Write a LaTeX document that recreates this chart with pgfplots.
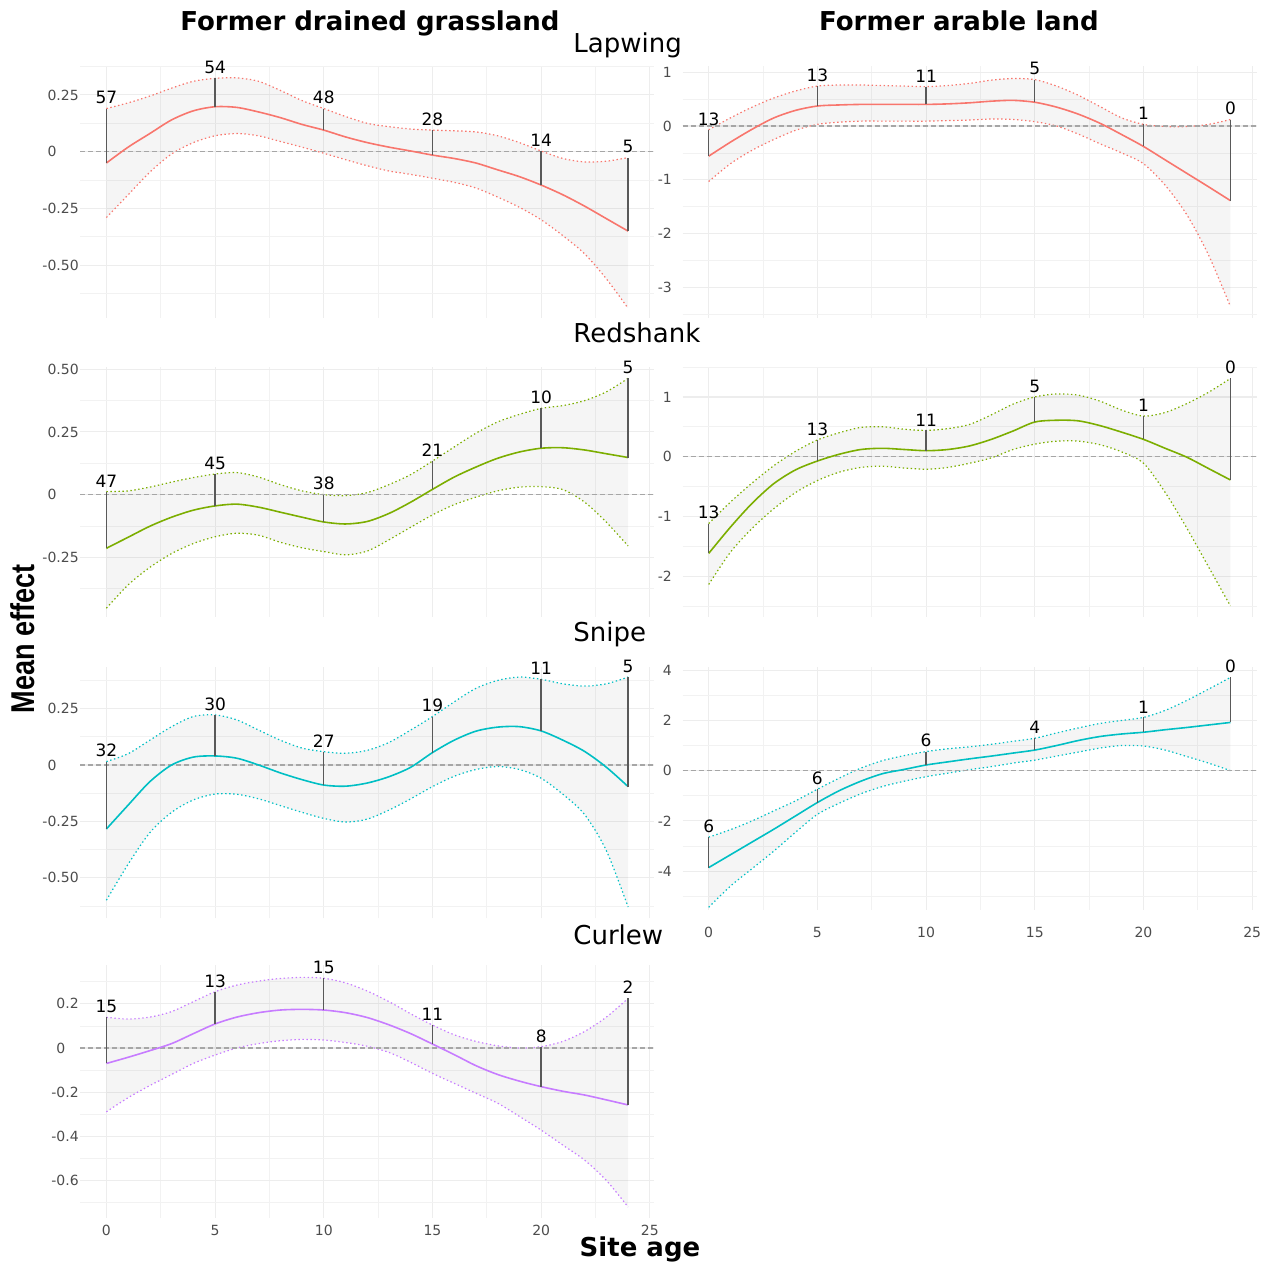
\documentclass[border=0pt]{standalone}
\usepackage{fontspec}
\setmainfont{DejaVu Sans}
\newfontfamily\libsans{Liberation Sans}
\usepackage{pgfplots}
\pgfplotsset{compat=1.18}
\usepgfplotslibrary{fillbetween}
\usepackage{pgfplotstable}

\definecolor{lapw}{HTML}{F8766D}
\definecolor{reds}{HTML}{7CAE00}
\definecolor{snip}{HTML}{00BFC4}
\definecolor{curl}{HTML}{C77CFF}

% ---------- Lapwing, former drained grassland
\pgfplotstableread{
x m lo hi
0 -0.05 -0.29 0.19
1 0.02 -0.19 0.215
2 0.08 -0.09 0.245
3 0.14 -0.01 0.28
4 0.18 0.04 0.31
5 0.198 0.07 0.323
6 0.195 0.08 0.325
7 0.175 0.07 0.31
8 0.15 0.045 0.27
9 0.12 0.02 0.225
10 0.095 -0.007 0.19
11 0.065 -0.035 0.155
12 0.04 -0.062 0.125
13 0.02 -0.085 0.11
14 0.003 -0.1 0.1
15 -0.015 -0.117 0.095
16 -0.03 -0.135 0.092
17 -0.05 -0.16 0.087
18 -0.08 -0.2 0.07
19 -0.11 -0.245 0.04
20 -0.147 -0.30 0.003
21 -0.19 -0.37 -0.03
22 -0.24 -0.45 -0.045
23 -0.295 -0.56 -0.042
24 -0.35 -0.69 -0.026
}\LapG
\pgfplotstableread{
x m hi n
0 -0.05 0.19 57
5 0.198 0.323 54
10 0.095 0.19 48
15 -0.015 0.095 28
20 -0.147 0.003 14
24 -0.35 -0.026 5
}\LapGn

% ---------- Lapwing, former arable land
\pgfplotstableread{
x m lo hi
0 -0.56 -1.03 -0.07
1 -0.30 -0.7 0.15
2 -0.06 -0.45 0.35
3 0.15 -0.25 0.52
4 0.29 -0.08 0.65
5 0.37 0.03 0.74
6 0.39 0.07 0.76
7 0.40 0.09 0.76
8 0.40 0.09 0.75
9 0.40 0.09 0.74
10 0.40 0.09 0.73
11 0.41 0.10 0.75
12 0.43 0.11 0.79
13 0.46 0.13 0.85
14 0.475 0.12 0.88
15 0.44 0.08 0.86
16 0.35 0.0 0.74
17 0.22 -0.15 0.57
18 0.05 -0.33 0.36
19 -0.16 -0.5 0.15
20 -0.38 -0.7 0.03
21 -0.63 -1.1 -0.01
22 -0.88 -1.65 -0.01
23 -1.13 -2.4 0.03
24 -1.385 -3.35 0.12
}\LapA
\pgfplotstableread{
x m hi n
0 -0.56 -0.07 13
5 0.37 0.74 13
10 0.40 0.73 11
15 0.44 0.86 5
20 -0.38 0.03 1
24 -1.385 0.12 0
}\LapAn

% ---------- Redshank, former drained grassland
\pgfplotstableread{
x m lo hi
0 -0.214 -0.453 0.012
1 -0.17 -0.36 0.015
2 -0.126 -0.29 0.03
3 -0.09 -0.235 0.05
4 -0.062 -0.195 0.068
5 -0.045 -0.168 0.082
6 -0.038 -0.154 0.088
7 -0.05 -0.162 0.07
8 -0.07 -0.19 0.04
9 -0.09 -0.212 0.015
10 -0.109 -0.227 0.0
11 -0.117 -0.24 -0.004
12 -0.107 -0.225 0.008
13 -0.075 -0.18 0.04
14 -0.03 -0.13 0.08
15 0.021 -0.081 0.134
16 0.07 -0.04 0.19
17 0.11 -0.01 0.245
18 0.145 0.015 0.29
19 0.17 0.03 0.32
20 0.185 0.032 0.344
21 0.187 0.02 0.355
22 0.178 -0.03 0.375
23 0.163 -0.11 0.41
24 0.148 -0.205 0.464
}\RedG
\pgfplotstableread{
x m hi n
0 -0.214 0.012 47
5 -0.045 0.082 45
10 -0.109 0.0 38
15 0.021 0.134 21
20 0.185 0.344 10
24 0.148 0.464 5
}\RedGn

% ---------- Redshank, former arable land
\pgfplotstableread{
x m lo hi
0 -1.62 -2.14 -1.12
1 -1.18 -1.6 -0.76
2 -0.78 -1.2 -0.44
3 -0.45 -0.87 -0.15
4 -0.22 -0.6 0.09
5 -0.073 -0.40 0.28
6 0.04 -0.26 0.4
7 0.12 -0.18 0.49
8 0.14 -0.16 0.5
9 0.12 -0.19 0.46
10 0.10 -0.21 0.44
11 0.12 -0.18 0.47
12 0.18 -0.11 0.54
13 0.29 -0.02 0.7
14 0.43 0.12 0.88
15 0.58 0.21 1.0
16 0.61 0.26 1.05
17 0.6 0.26 1.03
18 0.52 0.2 0.93
19 0.41 0.08 0.78
20 0.29 -0.11 0.68
21 0.14 -0.6 0.74
22 -0.01 -1.2 0.89
23 -0.2 -1.85 1.08
24 -0.39 -2.5 1.31
}\RedA
\pgfplotstableread{
x m hi n
0 -1.62 -1.12 13
5 -0.073 0.28 13
10 0.10 0.44 11
15 0.58 1.0 5
20 0.29 0.68 1
24 -0.39 1.31 0
}\RedAn

% ---------- Snipe, former drained grassland
\pgfplotstableread{
x m lo hi
0 -0.284 -0.6 0.015
1 -0.178 -0.44 0.05
2 -0.074 -0.3 0.11
3 0.0 -0.21 0.17
4 0.035 -0.155 0.215
5 0.04 -0.129 0.222
6 0.03 -0.13 0.2
7 0.0 -0.15 0.155
8 -0.035 -0.18 0.11
9 -0.065 -0.21 0.075
10 -0.089 -0.237 0.059
11 -0.094 -0.253 0.052
12 -0.08 -0.24 0.065
13 -0.052 -0.2 0.1
14 -0.01 -0.15 0.155
15 0.055 -0.096 0.215
16 0.11 -0.05 0.28
17 0.15 -0.02 0.34
18 0.168 -0.007 0.375
19 0.17 -0.02 0.39
20 0.151 -0.059 0.38
21 0.11 -0.13 0.36
22 0.06 -0.22 0.35
23 -0.01 -0.38 0.36
24 -0.096 -0.63 0.39
}\SniG
\pgfplotstableread{
x m hi n
0 -0.284 0.015 32
5 0.04 0.222 30
10 -0.089 0.059 27
15 0.055 0.215 19
20 0.151 0.38 11
24 -0.096 0.39 5
}\SniGn

% ---------- Snipe, former arable land
\pgfplotstableread{
x m lo hi
0 -3.86 -5.44 -2.65
1 -3.35 -4.6 -2.35
2 -2.84 -3.9 -2.0
3 -2.33 -3.2 -1.6
4 -1.8 -2.45 -1.2
5 -1.27 -1.74 -0.74
6 -0.8 -1.3 -0.3
7 -0.42 -0.92 0.1
8 -0.12 -0.63 0.4
9 0.05 -0.42 0.6
10 0.225 -0.24 0.76
11 0.35 -0.1 0.87
12 0.47 0.04 0.95
13 0.58 0.16 1.05
14 0.7 0.3 1.17
15 0.82 0.42 1.29
16 1.0 0.58 1.5
17 1.2 0.74 1.7
18 1.36 0.9 1.88
19 1.46 1.0 2.0
20 1.53 0.98 2.12
21 1.63 0.82 2.4
22 1.72 0.56 2.8
23 1.82 0.3 3.25
24 1.92 0.0 3.71
}\SniA
\pgfplotstableread{
x m hi n
0 -3.86 -2.65 6
5 -1.27 -0.74 6
10 0.225 0.76 6
15 0.82 1.29 4
20 1.53 2.12 1
24 1.92 3.71 0
}\SniAn

% ---------- Curlew, former drained grassland
\pgfplotstableread{
x m lo hi
0 -0.07 -0.289 0.139
1 -0.042 -0.225 0.131
2 -0.012 -0.17 0.14
3 0.02 -0.12 0.165
4 0.065 -0.07 0.21
5 0.109 -0.032 0.255
6 0.14 0.0 0.285
7 0.16 0.02 0.303
8 0.172 0.033 0.315
9 0.175 0.039 0.32
10 0.172 0.036 0.316
11 0.16 0.025 0.295
12 0.138 0.008 0.258
13 0.105 -0.02 0.21
14 0.065 -0.065 0.155
15 0.018 -0.115 0.104
16 -0.03 -0.16 0.06
17 -0.08 -0.205 0.03
18 -0.12 -0.25 0.01
19 -0.15 -0.31 0.0
20 -0.175 -0.372 0.006
21 -0.196 -0.44 0.03
22 -0.213 -0.508 0.075
23 -0.235 -0.6 0.14
24 -0.258 -0.72 0.225
}\CurG
\pgfplotstableread{
x m hi n
0 -0.07 0.139 15
5 0.109 0.255 13
10 0.172 0.316 15
15 0.018 0.104 11
20 -0.175 0.006 8
24 -0.258 0.225 2
}\CurGn

\pgfplotsset{
  panel/.style={
    scale only axis, width=286.95pt, xmin=-1.2, xmax=25.2,
    clip=false, anchor=north west,
    axis line style={draw=none},
    major tick length=0pt, minor tick length=0pt,
    xtick={0,5,10,15,20,25}, minor xtick={2.5,7.5,12.5,17.5,22.5},
    grid=both,
    major grid style={color=black!7, line width=0.55pt},
    minor grid style={color=black!5, line width=0.35pt},
    tick label style={font=\fontsize{7}{8.4}\selectfont, text=black!70},
    xticklabels={},
    yticklabel style={anchor=east, inner sep=0pt},
  },
  leftp/.style={panel, yticklabel style={xshift=-0.6pt}},
  rightp/.style={panel, yticklabel style={xshift=-5.2pt}},
  withx/.style={xticklabels={0,5,10,15,20,25},
    xticklabel style={anchor=north, inner sep=0pt, yshift=#1}},
}

\newcommand\drawpanel[3]{%
  \addplot[draw=none, smooth, name path=U] table[x=x,y=hi]{#1};
  \addplot[draw=none, smooth, name path=L] table[x=x,y=lo]{#1};
  \addplot[fill=black, fill opacity=0.04, draw=none] fill between[of=U and L];
  \addplot[#3, line width=0.6pt, dash pattern=on 0.7pt off 1.3pt, smooth] table[x=x,y=hi]{#1};
  \addplot[#3, line width=0.6pt, dash pattern=on 0.7pt off 1.3pt, smooth] table[x=x,y=lo]{#1};
  \addplot[black!35, line width=0.65pt, dash pattern=on 2.5pt off 1.5pt] coordinates {(-1.2,0) (25.2,0)};
  \addplot[#3, line width=0.8pt, smooth] table[x=x,y=m]{#1};
  \addplot[draw=none, mark=none, error bars/.cd, y dir=plus, y explicit, error mark=none,
     error bar style={draw=black!65, line width=0.7pt, solid}]
     table[x=x, y=m, y error expr=\thisrow{hi}-\thisrow{m}]{#2};
  \addplot[draw=none, mark=*, mark size=0pt, mark options={draw=none, fill=none},
     nodes near coords, point meta=explicit symbolic,
     nodes near coords style={anchor=south, inner sep=0pt, yshift=2pt, text=black,
        font=\fontsize{8.5}{10}\selectfont}]
     table[x=x, y=hi, meta=n]{#2};
}

\begin{document}
\begin{tikzpicture}

% titles
\node[anchor=base, inner sep=0pt, font=\bfseries\fontsize{13}{15}\selectfont] at (185pt,616pt) {Former drained grassland};
\node[anchor=base, inner sep=0pt, font=\bfseries\fontsize{13}{15}\selectfont] at (479.5pt,616pt) {Former arable land};
\node[anchor=base west, inner sep=0pt, font=\fontsize{13}{15}\selectfont] at (286.5pt,605pt) {Lapwing};
\node[anchor=base west, inner sep=0pt, font=\fontsize{13}{15}\selectfont] at (286.5pt,460pt) {Redshank};
\node[anchor=base west, inner sep=0pt, font=\fontsize{13}{15}\selectfont] at (286.5pt,310.5pt) {Snipe};
\node[anchor=base west, inner sep=0pt, font=\fontsize{13}{15}\selectfont] at (286.5pt,159.5pt) {Curlew};
\node[anchor=base, inner sep=0pt, font=\bfseries\fontsize{13}{15}\selectfont] at (320pt,3.2pt) {Site age};
\node[rotate=90, anchor=center, inner sep=0pt] at (11.5pt,312pt)
  {\scalebox{0.82}[1]{\libsans\bfseries\fontsize{16.5}{18}\selectfont Mean effect}};

% Lapwing grassland
\begin{axis}[leftp, at={(40.15pt,598.5pt)}, height=126pt,
  ymin=-0.7326, ymax=0.3775,
  ytick={-0.5,-0.25,0,0.25}, minor ytick={-0.625,-0.375,-0.125,0.125,0.375},
  yticklabels={-0.50,-0.25,0\phantom{.00},0.25}]
\drawpanel{\LapG}{\LapGn}{lapw}
\end{axis}

% Lapwing arable
\begin{axis}[rightp, at={(341.3pt,598.5pt)}, height=126pt,
  ymin=-3.562, ymax=1.113,
  ytick={-3,-2,-1,0,1}, minor ytick={-3.5,-2.5,-1.5,-0.5,0.5},
  yticklabels={-3,-2,-1,0,1}]
\drawpanel{\LapA}{\LapAn}{lapw}
\end{axis}

% Redshank grassland
\begin{axis}[leftp, at={(40.15pt,448pt)}, height=125pt,
  ymin=-0.488, ymax=0.509,
  ytick={-0.25,0,0.25,0.5}, minor ytick={-0.375,-0.125,0.125,0.375},
  yticklabels={-0.25,0\phantom{.00},0.25,0.50}]
\drawpanel{\RedG}{\RedGn}{reds}
\end{axis}

% Redshank arable
\begin{axis}[rightp, at={(341.3pt,448pt)}, height=125pt,
  ymin=-2.685, ymax=1.502,
  ytick={-2,-1,0,1}, minor ytick={-2.5,-1.5,-0.5,0.5,1.5},
  yticklabels={-2,-1,0,1}]
\drawpanel{\RedA}{\RedAn}{reds}
\end{axis}

% Snipe grassland
\begin{axis}[leftp, at={(40.15pt,298.15pt)}, height=125.8pt,
  ymin=-0.680, ymax=0.436,
  ytick={-0.5,-0.25,0,0.25}, minor ytick={-0.625,-0.375,-0.125,0.125,0.375},
  yticklabels={-0.50,-0.25,0\phantom{.00},0.25}]
\drawpanel{\SniG}{\SniGn}{snip}
\end{axis}

% Snipe arable
\begin{axis}[rightp, withx=-8.3pt, at={(341.3pt,298.15pt)}, height=121.65pt,
  ymin=-5.55, ymax=4.14,
  ytick={-4,-2,0,2,4}, minor ytick={-5,-3,-1,1,3},
  yticklabels={-4,-2,0,2,4}]
\drawpanel{\SniA}{\SniAn}{snip}
\end{axis}

% Curlew grassland
\begin{axis}[leftp, withx=-3.5pt, at={(40.15pt,149pt)}, height=126.5pt,
  ymin=-0.770, ymax=0.376,
  ytick={-0.6,-0.4,-0.2,0,0.2}, minor ytick={-0.7,-0.5,-0.3,-0.1,0.1,0.3},
  yticklabels={-0.6,-0.4,-0.2,0\phantom{.0},0.2}]
\drawpanel{\CurG}{\CurGn}{curl}
\end{axis}

\pgfresetboundingbox
\path[use as bounding box] (0pt,0pt) rectangle (636pt,631.5pt);
\end{tikzpicture}
\end{document}
